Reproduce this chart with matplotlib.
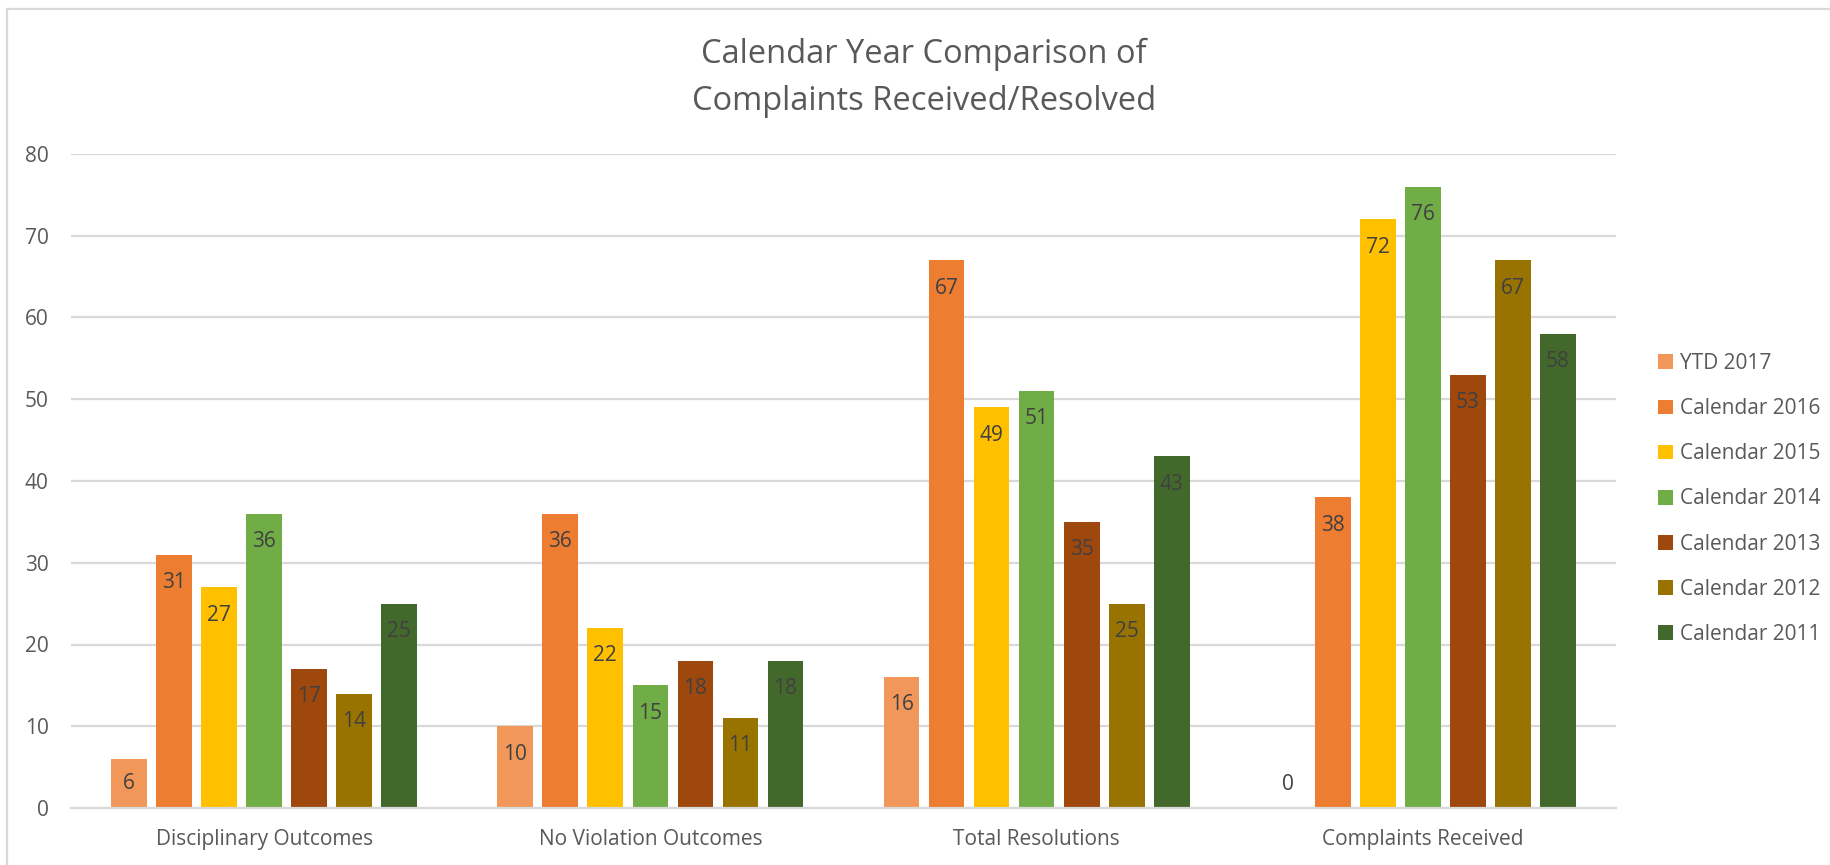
import matplotlib.pyplot as plt
import numpy as np
from matplotlib.patches import Rectangle

TEXT = "#595959"
LABEL = "#404040"
GRID = "#D9D9D9"

plt.rcParams.update({
    "font.family": ["Open Sans", "DejaVu Sans"],
    "text.color": TEXT,
})

categories = ["Disciplinary Outcomes", "No Violation Outcomes",
              "Total Resolutions", "Complaints Received"]
series = ["YTD 2017", "Calendar 2016", "Calendar 2015", "Calendar 2014",
          "Calendar 2013", "Calendar 2012", "Calendar 2011"]
colors = ["#F1975A", "#ED7D31", "#FFC000", "#70AD47",
          "#9E480E", "#997300", "#43682B"]

ytd_2017 = [6, 10, 16, 0]
cal_2016 = [31, 36, 67, 38]
cal_2015 = [27, 22, 49, 72]
cal_2014 = [36, 15, 51, 76]
cal_2013 = [17, 18, 35, 53]
cal_2012 = [14, 11, 25, 67]
cal_2011 = [25, 18, 43, 58]
values = [ytd_2017, cal_2016, cal_2015, cal_2014, cal_2013, cal_2012, cal_2011]

fig = plt.figure(figsize=(18.3, 8.65), dpi=100)
ax = fig.add_axes([71 / 1830, 1 - 808 / 865, (1616 - 71) / 1830, (808 - 154) / 865])

x = np.arange(len(categories))
step = 0.1166
width = 0.0925
n = len(series)

for i, (name, vals, col) in enumerate(zip(series, values, colors)):
    pos = x + (i - (n - 1) / 2) * step
    ax.bar(pos, vals, width, color=col, label=name, zorder=2)
    for xp, v in zip(pos, vals):
        if v == 0:
            # zero-height bar: label sits just above the baseline
            ax.annotate(str(v), (xp, 0), xytext=(0, 17), textcoords="offset points",
                        ha="center", va="center", fontsize=15, color=LABEL)
        elif v < 7:
            ax.annotate(str(v), (xp, v / 2), ha="center", va="center",
                        fontsize=15, color=LABEL)
        else:
            ax.annotate(str(v), (xp, v), xytext=(0, -20), textcoords="offset points",
                        ha="center", va="center", fontsize=15, color=LABEL)

ax.set_xlim(-0.5, len(categories) - 0.5)
ax.set_ylim(0, 80)
ax.set_yticks(range(0, 81, 10))
ax.set_xticks(x)
ax.set_xticklabels(categories)
ax.tick_params(axis="both", length=0, labelsize=15, colors=TEXT)
ax.tick_params(axis="y", pad=16)
ax.tick_params(axis="x", pad=15)
ax.yaxis.grid(True, color=GRID, linewidth=1.6, zorder=0)
ax.set_axisbelow(True)
for side in ["top", "right", "left"]:
    ax.spines[side].set_visible(False)
ax.spines["bottom"].set_color(GRID)
ax.spines["bottom"].set_linewidth(1.6)

fig.text(0.505, 1 - 78 / 865, "Calendar Year Comparison of\nComplaints Received/Resolved",
         ha="center", va="center", fontsize=23.5, linespacing=1.58, color=TEXT)

leg = ax.legend(loc="center left", bbox_to_anchor=(1648 / 1830, 1 - 499 / 865),
                bbox_transform=fig.transFigure, frameon=False, fontsize=15,
                handlelength=0.7, handleheight=0.7, handletextpad=0.35,
                labelspacing=1.16, borderpad=0)
for t in leg.get_texts():
    t.set_color(TEXT)

# outer chart border
fig.add_artist(Rectangle((7 / 1830, -0.2), 1.2, 1.2 - 9 / 865,
                         transform=fig.transFigure, fill=False,
                         edgecolor=GRID, linewidth=1.6))

fig.savefig("out.png", dpi=100, facecolor="white")
